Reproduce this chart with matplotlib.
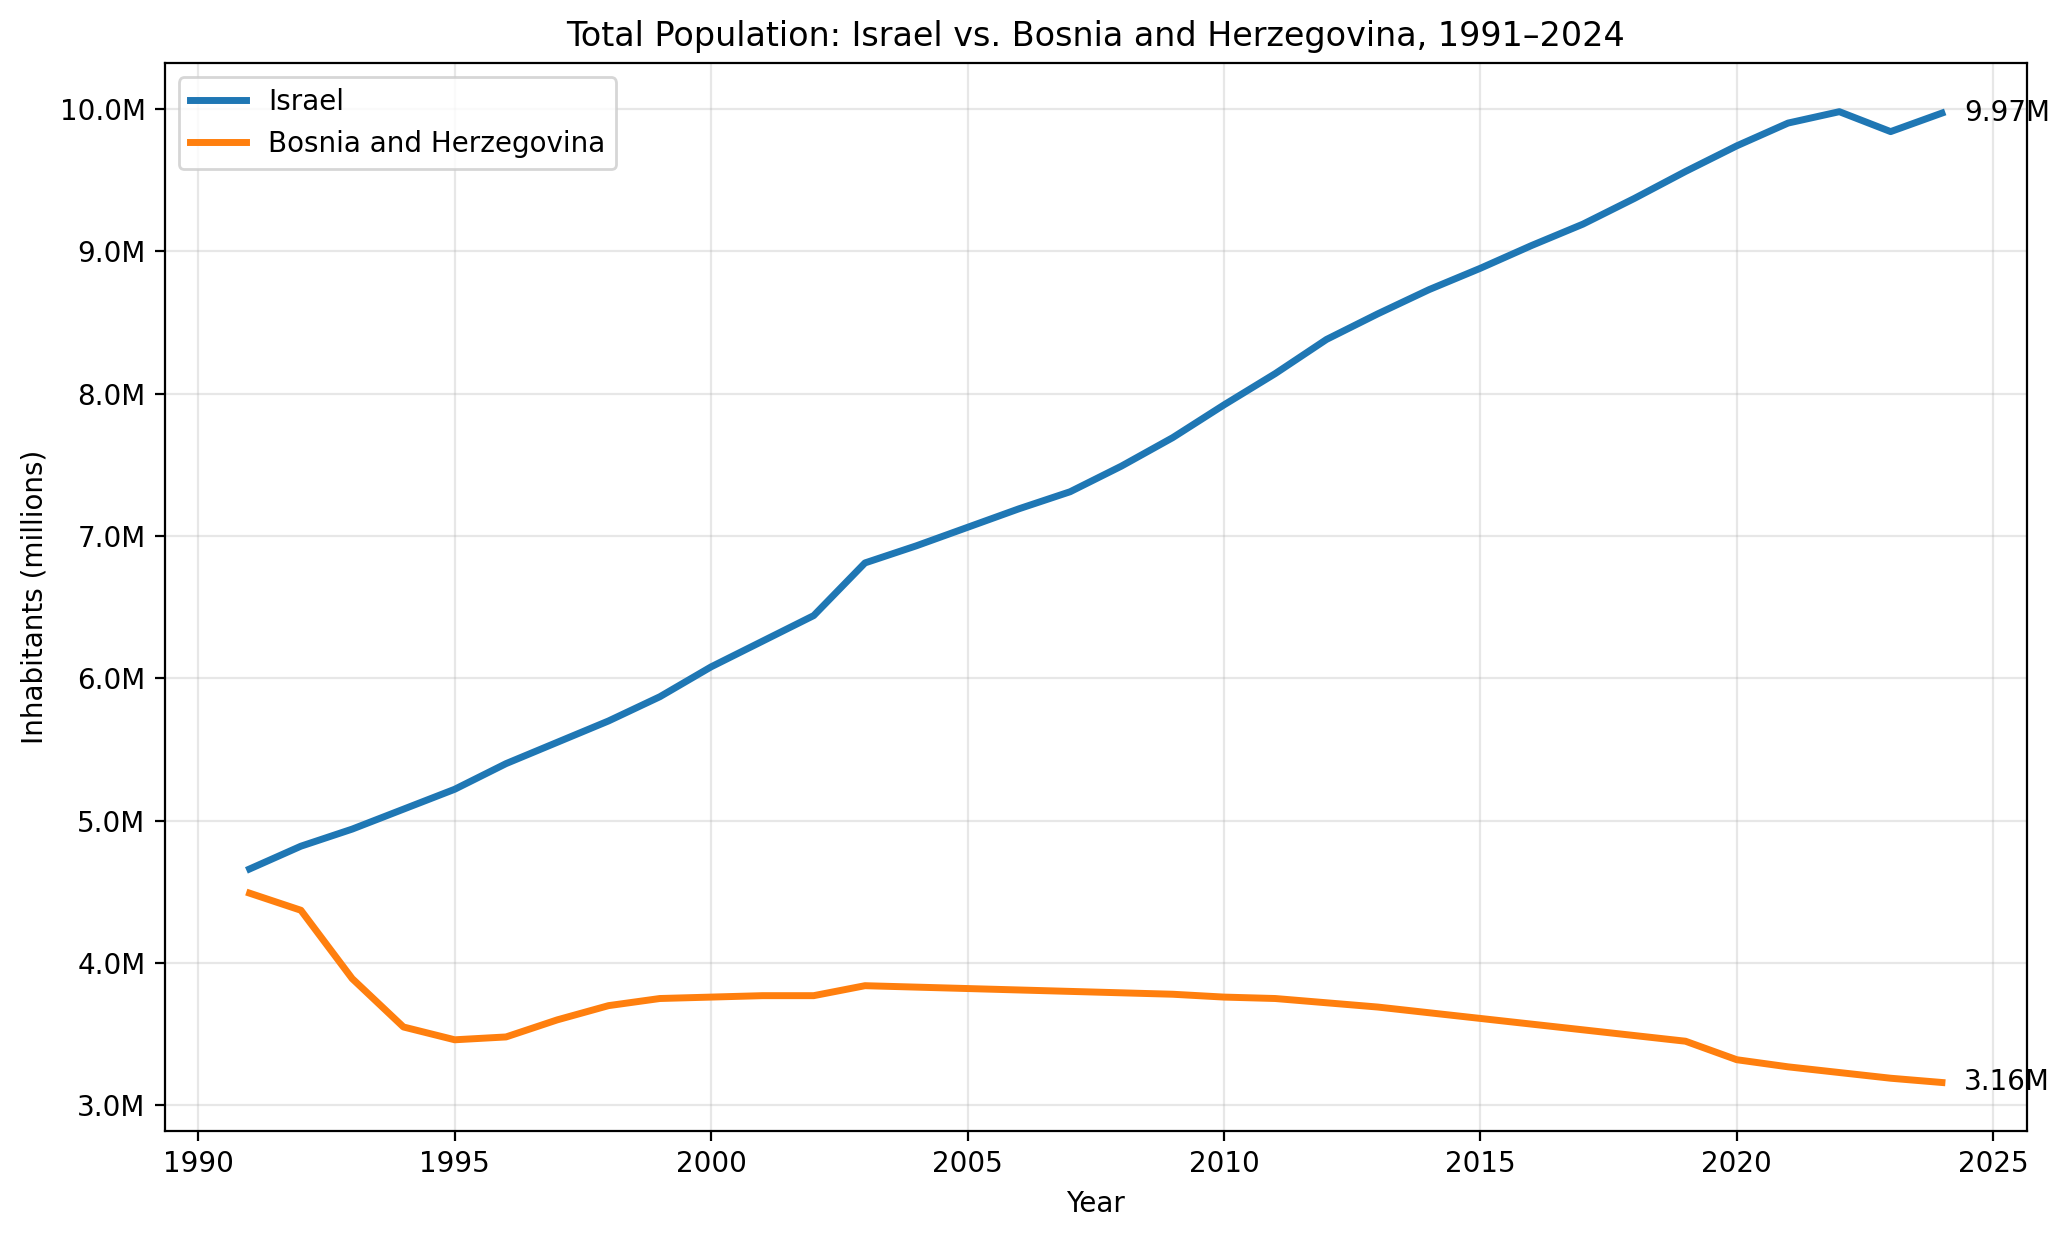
import numpy as np
import matplotlib
matplotlib.use("Agg")
import matplotlib.pyplot as plt
from matplotlib.ticker import FuncFormatter

years = list(range(1991, 2025))

# population in millions
israel = [4.66, 4.82, 4.94, 5.08, 5.22, 5.40, 5.55, 5.70, 5.87, 6.08,
          6.26, 6.44, 6.81, 6.93, 7.06, 7.19, 7.31, 7.49, 7.69, 7.92,
          8.14, 8.38, 8.56, 8.73, 8.88, 9.04, 9.19, 9.37, 9.56, 9.74,
          9.90, 9.98, 9.84, 9.97]
bosnia = [4.49, 4.37, 3.89, 3.55, 3.46, 3.48, 3.60, 3.70, 3.75, 3.76,
          3.77, 3.77, 3.84, 3.83, 3.82, 3.81, 3.80, 3.79, 3.78, 3.76,
          3.75, 3.72, 3.69, 3.65, 3.61, 3.57, 3.53, 3.49, 3.45, 3.32,
          3.27, 3.23, 3.19, 3.16]

fig, ax = plt.subplots(figsize=(10.35, 6.19), dpi=200)
fig.subplots_adjust(left=0.0797, right=0.979, bottom=0.0864, top=0.949)

ax.plot(years, israel, color="#1f77b4", lw=2.5, label="Israel")
ax.plot(years, bosnia, color="#ff7f0e", lw=2.5, label="Bosnia and Herzegovina")

# end labels
ax.annotate(f"{israel[-1]:.2f}M", (years[-1], israel[-1]), xytext=(8, 0),
            textcoords="offset points", va="center", fontsize=10)
ax.annotate(f"{bosnia[-1]:.2f}M", (years[-1], bosnia[-1]), xytext=(8, 0),
            textcoords="offset points", va="center", fontsize=10)

ax.yaxis.set_major_formatter(FuncFormatter(lambda v, p: f"{v:.1f}M"))
ax.set_title("Total Population: Israel vs. Bosnia and Herzegovina, 1991\u20132024")
ax.set_xlabel("Year")
ax.set_ylabel("Inhabitants (millions)")
ax.grid(True, alpha=0.3)
ax.legend(loc="upper left")

fig.savefig("out.png")
